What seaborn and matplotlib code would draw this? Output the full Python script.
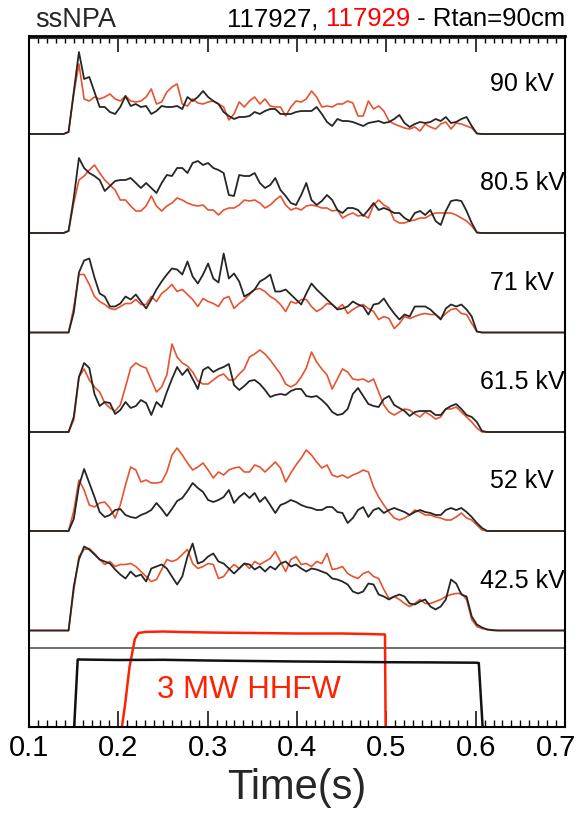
import matplotlib
matplotlib.use("Agg")
import matplotlib.pyplot as plt
import seaborn as sns
import pandas as pd
from matplotlib.ticker import MultipleLocator
from matplotlib.transforms import ScaledTranslation

# ---------------- data ----------------
T = [0.100,
     0.1386, 0.1443, 0.1501, 0.1559, 0.1617, 0.1675, 0.1733, 0.1791, 0.1848, 0.1906,
     0.1964, 0.2022, 0.2080, 0.2138, 0.2196, 0.2253, 0.2311, 0.2369, 0.2427, 0.2485,
     0.2543, 0.2600, 0.2658, 0.2716, 0.2774, 0.2832, 0.2890, 0.2948, 0.3005, 0.3063,
     0.3121, 0.3179, 0.3237, 0.3295, 0.3353, 0.3410, 0.3468, 0.3526, 0.3584, 0.3642,
     0.3700, 0.3757, 0.3815, 0.3873, 0.3931, 0.3989, 0.4047, 0.4104, 0.4162, 0.4220,
     0.4278, 0.4336, 0.4394, 0.4452, 0.4509, 0.4567, 0.4625, 0.4683, 0.4741, 0.4799,
     0.4857, 0.4914, 0.4972, 0.5030, 0.5088, 0.5146, 0.5204, 0.5261, 0.5319, 0.5377,
     0.5435, 0.5493, 0.5551, 0.5609, 0.5666, 0.5724, 0.5782, 0.5840, 0.5898, 0.5956,
     0.6013, 0.6071, 0.6129, 0.6187, 0.6245, 0.6303, 0.6361,
     0.700]

kv_labels = ["90 kV", "80.5 kV", "71 kV", "61.5 kV", "52 kV", "42.5 kV"]
tick_vals = [0.1, 0.2, 0.3, 0.4, 0.5, 0.6, 0.7]
tick_labels = ["0.1", "0.2", "0.3", "0.4", "0.5", "0.6", "0.7"]

# shot 117927 (black)
s27_90 = [0,
    0, 2, 42, 82, 55, 57, 42, 27, 27, 22,
    20, 27, 38, 28, 30, 27, 28, 20, 23, 28,
    27, 27, 28, 25, 37, 33, 37, 43, 37, 33,
    30, 22, 18, 15, 17, 17, 18, 22, 20, 23,
    25, 25, 20, 20, 20, 22, 23, 23, 23, 27,
    20, 12, 8, 15, 13, 13, 12, 10, 8, 11,
    12, 13, 11, 12, 15, 19, 11, 7, 10, 12,
    11, 12, 15, 13, 17, 11, 12, 15, 17, 8,
    0.5, 0, 0, 0, 0, 0, 0,
    0]
s27_80 = [0,
    0, 2, 35, 75, 65, 60, 57, 53, 42, 47,
    52, 53, 53, 55, 50, 45, 50, 45, 40, 50,
    58, 57, 65, 65, 60, 70, 72, 68, 70, 65,
    63, 60, 38, 37, 58, 57, 57, 60, 50, 45,
    48, 55, 43, 37, 30, 28, 38, 50, 33, 28,
    32, 38, 33, 23, 20, 25, 25, 23, 17, 23,
    30, 23, 25, 23, 20, 20, 15, 12, 20, 22,
    18, 23, 12, 8, 22, 32, 33, 32, 22, 10,
    0.5, 0, 0, 0, 0, 0, 0,
    0]
s27_71 = [0,
    0, 0, 20, 60, 72, 74, 55, 39, 36, 26,
    26, 29, 36, 33, 38, 31, 24, 33, 43, 51,
    58, 64, 63, 58, 71, 56, 49, 58, 69, 54,
    50, 79, 54, 59, 51, 36, 39, 43, 51, 54,
    58, 41, 41, 43, 38, 33, 28, 39, 49, 43,
    38, 33, 28, 23, 24, 26, 31, 28, 26, 18,
    28, 29, 34, 26, 19, 13, 18, 16, 26, 26,
    26, 23, 18, 13, 24, 28, 26, 28, 23, 16,
    1, 0, 0, 0, 0, 0, 0,
    0]
s27_61 = [0,
    0, 0, 15, 55, 69, 64, 38, 26, 30, 29,
    18, 22, 30, 24, 26, 32, 29, 17, 30, 25,
    40, 53, 65, 57, 63, 53, 43, 62, 65, 60,
    63, 65, 68, 47, 42, 46, 51, 52, 48, 42,
    35, 37, 38, 37, 41, 43, 43, 36, 35, 36,
    32, 27, 20, 17, 18, 23, 38, 44, 36, 28,
    26, 25, 33, 36, 27, 24, 21, 16, 20, 21,
    21, 21, 17, 17, 23, 26, 28, 23, 17, 15,
    10, 1, 0, 0, 0, 0, 0,
    0]
s27_52 = [0,
    0, 0, 12, 45, 62, 48, 34, 19, 14, 16,
    21, 22, 16, 14, 13, 16, 18, 21, 28, 22,
    15, 22, 30, 33, 40, 48, 43, 39, 31, 29,
    31, 34, 41, 28, 34, 38, 33, 38, 29, 34,
    26, 18, 26, 28, 31, 29, 26, 24, 23, 21,
    21, 24, 24, 19, 18, 8, 13, 21, 24, 14,
    21, 23, 18, 21, 23, 21, 19, 16, 19, 21,
    19, 18, 16, 16, 21, 23, 21, 23, 19, 14,
    8, 3, 0, 0, 0, 0, 0,
    0]
s27_42 = [0,
    0, 0, 44, 71, 84, 81, 76, 71, 69, 67,
    61, 56, 52, 59, 54, 56, 49, 62, 64, 66,
    62, 54, 46, 54, 74, 87, 67, 69, 74, 77,
    69, 67, 62, 57, 62, 67, 66, 61, 64, 59,
    64, 61, 67, 69, 64, 66, 62, 59, 62, 61,
    59, 57, 52, 51, 49, 46, 39, 37, 39, 47,
    46, 36, 34, 31, 34, 36, 34, 27, 26, 29,
    31, 24, 21, 24, 31, 51, 47, 36, 34, 14,
    6, 3, 1, 0.5, 0, 0, 0,
    0]

# shot 117929 (red)
s29_90 = [0,
    0, 2, 40, 70, 35, 33, 37, 35, 37, 40,
    35, 33, 38, 33, 32, 33, 37, 45, 30, 32,
    42, 47, 50, 30, 28, 35, 31, 30, 32, 33,
    30, 27, 14, 20, 32, 27, 33, 37, 30, 35,
    28, 27, 27, 18, 27, 33, 32, 35, 43, 37,
    27, 28, 27, 30, 30, 33, 31, 18, 18, 33,
    25, 28, 23, 13, 10, 8, 6, 5, 7, 3,
    10, 7, 5, 10, 12, 5, 11, 10, 8, 6,
    0.5, 0, 0, 0, 0, 0, 0,
    0]
s29_80 = [0,
    0, 2, 30, 53, 57, 63, 68, 60, 53, 48,
    43, 33, 33, 27, 22, 22, 27, 37, 27, 22,
    27, 30, 35, 33, 30, 28, 27, 28, 23, 23,
    18, 23, 25, 25, 28, 33, 32, 33, 30, 25,
    28, 33, 37, 28, 23, 25, 23, 27, 28, 27,
    25, 25, 22, 23, 15, 18, 20, 17, 18, 15,
    28, 33, 28, 25, 13, 10, 10, 12, 13, 15,
    15, 18, 20, 20, 20, 20, 18, 15, 12, 7,
    0.5, 0, 0, 0, 0, 0, 0,
    0]
s29_71 = [0,
    0, 0, 25, 58, 58, 48, 36, 31, 28, 24,
    23, 26, 29, 29, 33, 28, 28, 36, 31, 39,
    43, 48, 41, 43, 38, 33, 26, 34, 31, 29,
    26, 34, 36, 24, 29, 33, 38, 43, 44, 41,
    36, 33, 28, 21, 31, 29, 33, 33, 26, 21,
    24, 29, 28, 24, 28, 19, 23, 26, 28, 24,
    21, 13, 16, 14, 4, 9, 16, 14, 16, 18,
    19, 18, 18, 14, 19, 23, 24, 19, 18, 9,
    1, 0, 0, 0, 0, 0, 0,
    0]
s29_61 = [0,
    0, 0, 12, 55, 63, 52, 45, 40, 29, 24,
    21, 27, 45, 64, 69, 66, 64, 52, 40, 45,
    57, 88, 75, 69, 66, 60, 51, 48, 48, 52,
    56, 58, 52, 52, 58, 63, 75, 78, 82, 78,
    72, 65, 58, 48, 45, 48, 55, 64, 80, 70,
    63, 57, 43, 53, 63, 60, 53, 52, 53, 50,
    53, 40, 27, 20, 17, 20, 23, 22, 18, 15,
    20, 17, 13, 15, 23, 23, 25, 20, 15, 10,
    4, 0, 0, 0, 0, 0, 0,
    0]
s29_52 = [0,
    0, 0, 20, 51, 41, 26, 24, 28, 29, 23,
    13, 26, 46, 64, 61, 49, 51, 48, 48, 49,
    59, 76, 83, 76, 68, 61, 64, 68, 61, 53,
    59, 56, 61, 63, 64, 59, 59, 66, 64, 59,
    64, 69, 63, 49, 58, 66, 73, 81, 76, 69,
    63, 66, 56, 54, 56, 53, 56, 58, 61, 59,
    44, 34, 26, 19, 13, 11, 13, 16, 21, 19,
    16, 16, 14, 13, 11, 11, 14, 18, 13, 11,
    6, 1, 0, 0, 0, 0, 0,
    0]
s29_42 = [0,
    0, 0, 40, 74, 81, 82, 77, 71, 66, 69,
    64, 66, 66, 67, 64, 59, 54, 49, 51, 61,
    71, 69, 71, 76, 81, 67, 62, 64, 67, 66,
    52, 54, 61, 66, 62, 67, 62, 69, 66, 69,
    72, 79, 69, 59, 71, 74, 66, 67, 64, 69,
    67, 77, 61, 62, 64, 57, 54, 52, 57, 59,
    54, 52, 41, 32, 34, 31, 27, 24, 27, 31,
    27, 27, 29, 31, 34, 36, 37, 37, 31, 11,
    4, 2, 1, 0, 0, 0, 0,
    0]

# HHFW power traces (bottom strip)
hhfw_black_t = [0.1504, 0.1545, 0.20, 0.25, 0.30, 0.35, 0.40, 0.45, 0.50, 0.55, 0.60, 0.6035, 0.6080]
hhfw_black_v = [-3, 67.5, 67.0, 67.2, 66.5, 66.0, 65.5, 65.2, 64.8, 64.6, 64.3, 64.0, -3]
hhfw_red_t = [0.2035, 0.2075, 0.2125, 0.2185, 0.2225, 0.23, 0.25, 0.27, 0.30, 0.35, 0.40, 0.45, 0.48, 0.4985, 0.4992]
hhfw_red_v = [-3, 22, 60, 88, 94, 95, 95.5, 95, 94.5, 94, 93.5, 93.5, 93, 92.5, -3]

black_series = [s27_90, s27_80, s27_71, s27_61, s27_52, s27_42]
red_series = [s29_90, s29_80, s29_71, s29_61, s29_52, s29_42]

# ---------------- layout ----------------
W, H = 579, 814
AX_L, AX_R, AX_T, AX_B = 29, 565, 35.7, 727
baseline_px = [134, 233, 332.5, 432, 531, 630.5]
offsets = [AX_B - b for b in baseline_px]

BLACK = "#262626"
RED = "#e8532f"
HRED = "#ff2200"

sns.set_theme(style="white")
plt.rcParams['font.family'] = ['Liberation Sans', 'DejaVu Sans']

fig = plt.figure(figsize=(W / 100, H / 100), dpi=100)
ax = fig.add_axes([AX_L / W, 1 - AX_B / H, (AX_R - AX_L) / W, (AX_B - AX_T) / H])

for k in range(6):
    off = offsets[k]
    df_r = pd.DataFrame({"t": T, "v": [off + v for v in red_series[k]]})
    df_b = pd.DataFrame({"t": T, "v": [off + v for v in black_series[k]]})
    sns.lineplot(data=df_r, x="t", y="v", ax=ax, color=RED, lw=1.2,
                 estimator=None, sort=False)
    sns.lineplot(data=df_b, x="t", y="v", ax=ax, color=BLACK, lw=1.3,
                 estimator=None, sort=False)
    ax.text(0.652, off + 50, kv_labels[k], ha="center", va="center",
            fontsize=18, color="black")

# separator line between NPA panels and HHFW strip
ax.axhline(AX_B - 648, color="#555555", lw=1.2)
# inner line under the top spine
ax.axhline(AX_B - 38.3, color="#333333", lw=0.8)

sns.lineplot(x=hhfw_red_t, y=hhfw_red_v, ax=ax, color=HRED, lw=1.8,
             estimator=None, sort=False)
sns.lineplot(x=hhfw_black_t, y=hhfw_black_v, ax=ax, color="#111111", lw=1.8,
             estimator=None, sort=False)
ax.text(0.3463, 37, "3 MW HHFW", color=HRED, fontsize=22.5, ha="center", va="center")

ax.set_xlim(0.1, 0.7)
ax.set_ylim(0, AX_B - AX_T)
ax.set_yticks([])
ax.set_ylabel("")
ax.xaxis.set_minor_locator(MultipleLocator(0.01))
ax.set_xticks(tick_vals)
ax.set_xticklabels(tick_labels)
ax.tick_params(axis="x", which="both", direction="in", top=True, bottom=True,
               colors="black")
ax.tick_params(axis="x", which="major", length=11.5, width=1.1, labelsize=21, pad=5)
ax.tick_params(axis="x", which="minor", length=5, width=1.0)
ax.set_xlabel("Time(s)", fontsize=30, labelpad=4)
for sp in ax.spines.values():
    sp.set_visible(True)
    sp.set_color("black")
    sp.set_linewidth(1.5)
ax.spines["top"].set_linewidth(2.0)

# keep the last tick label inside the canvas, as in the reference
last = ax.get_xticklabels()[-1]
last.set_transform(last.get_transform() + ScaledTranslation(-9 / 100, 0, fig.dpi_scale_trans))

# titles
fig.text(35 / W, 1 - 27 / H, "ssNPA", fontsize=19.5, ha="left", va="baseline")
renderer = fig.canvas.get_renderer()
pieces = [("117927, ", "black"), ("117929", "#ff0000"), (" - Rtan=90cm", "black")]
x_px = 565
for s, c in reversed(pieces):
    t = fig.text(x_px / W, 1 - 26 / H, s, color=c, fontsize=18.5,
                 ha="right", va="baseline")
    bb = t.get_window_extent(renderer=renderer)
    x_px = bb.x0

fig.savefig("out.png", dpi=100)
